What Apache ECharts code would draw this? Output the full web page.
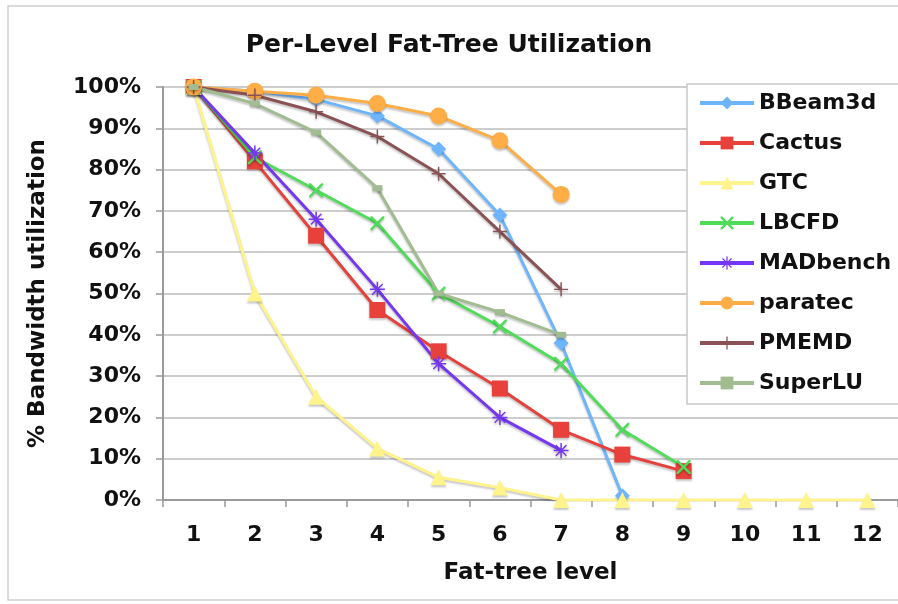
<!DOCTYPE html>
<html>
<head>
<meta charset="utf-8">
<script src="https://cdn.jsdelivr.net/npm/echarts@6/dist/echarts.min.js"></script>
<style>
  html, body { margin: 0; padding: 0; background: #fff; }
  #chart { width: 898px; height: 604px; }
</style>
</head>
<body>
<div id="chart"></div>
<script>
// fat-tree levels
const levels = ['1', '2', '3', '4', '5', '6', '7', '8', '9', '10', '11', '12']
const yTicks = [0, 10, 20, 30, 40, 50, 60, 70, 80, 90, 100]

// utilization per level, in %
const bbeam3d = [100, 99, 97, 93, 85, 69, 38, 1]
const cactus = [100, 82, 64, 46, 36, 27, 17, 11, 7]
const gtc = [100, 50, 25, 12.5, 5.5, 3, 0, 0, 0, 0, 0, 0]
const lbcfd = [100, 83, 75, 67, 50, 42, 33, 17, 8]
const madbench = [100, 84, 68, 51, 33, 20, 12]
const paratec = [100, 99, 98, 96, 93, 87, 74]
const pmemd = [100, 98, 94, 88, 79, 65, 51]
const superlu = [100, 96, 89, 75.5, 50, 45.5, 40]

const FONT = 'DejaVu Sans'

const xPath = 'path://M0,0L2.5,0L10,7.5L17.5,0L20,0L20,2.5L12.5,10L20,17.5L20,20L17.5,20L10,12.5L2.5,20L0,20L0,17.5L7.5,10L0,2.5Z'
const plusPath = 'path://M9,0L11,0L11,9L20,9L20,11L11,11L11,20L9,20L9,11L0,11L0,9L9,9Z'
const starPath = 'path://M9,0L11,0L11,7.6L16.4,2.2L17.8,3.6L12.4,9L20,9L20,11L12.4,11L17.8,16.4L16.4,17.8L11,12.4L11,20L9,20L9,12.4L3.6,17.8L2.2,16.4L7.6,11L0,11L0,9L7.6,9L2.2,3.6L3.6,2.2L9,7.6Z'

function line(name, data, color, symbol, size) {
  return {
    name: name,
    type: 'line',
    data: data,
    symbol: symbol,
    symbolSize: size,
    showAllSymbol: true,
    lineStyle: { color: color, width: 3, shadowColor: 'rgba(0,0,0,0.22)', shadowBlur: 2, shadowOffsetY: 2 },
    itemStyle: { color: color, shadowColor: 'rgba(0,0,0,0.22)', shadowBlur: 2, shadowOffsetY: 2 },
    emphasis: { disabled: true },
    animation: false
  }
}

const chart = echarts.init(document.getElementById('chart'))
chart.setOption({
  backgroundColor: '#fff',
  title: {
    text: 'Per-Level Fat-Tree Utilization',
    left: 'center',
    top: 28,
    textStyle: { fontFamily: FONT, fontWeight: 'bold', fontSize: 25, color: '#111' }
  },
  graphic: [{
    type: 'rect',
    shape: { x: 8, y: 6, width: 900, height: 594 },
    style: { fill: 'none', stroke: '#d0d0d0', lineWidth: 1.5 },
    silent: true,
    z: -1
  }],
  legend: {
    orient: 'vertical',
    left: 687,
    top: 84,
    padding: [8, 60, 10, 11],
    itemWidth: 54,
    itemHeight: 16,
    itemGap: 18,
    backgroundColor: '#fff',
    borderColor: '#c8c8c8',
    borderWidth: 1.5,
    lineStyle: { width: 4 },
    textStyle: { fontFamily: FONT, fontWeight: 'bold', fontSize: 22, lineHeight: 22, color: '#111' },
    data: ['BBeam3d', 'Cactus', 'GTC', 'LBCFD', 'MADbench', 'paratec', 'PMEMD', 'SuperLU']
  },
  grid: { left: 163, right: 0, top: 87, bottom: 104 },
  xAxis: {
    type: 'category',
    data: levels,
    boundaryGap: true,
    name: 'Fat-tree level',
    nameLocation: 'middle',
    nameGap: 62,
    nameTextStyle: { fontFamily: FONT, fontWeight: 'bold', fontSize: 23, color: '#111' },
    axisLine: { lineStyle: { color: '#9a9a9a', width: 2 } },
    axisTick: { show: true, length: 7, lineStyle: { color: '#9a9a9a', width: 1.5 } },
    axisLabel: { margin: 24, fontFamily: FONT, fontWeight: 'bold', fontSize: 22, color: '#111' },
    splitLine: { show: false }
  },
  yAxis: {
    type: 'value',
    min: yTicks[0],
    max: yTicks[yTicks.length - 1],
    interval: 10,
    name: '% Bandwidth utilization',
    nameLocation: 'middle',
    nameGap: 113,
    nameTextStyle: { fontFamily: FONT, fontWeight: 'bold', fontSize: 23, color: '#111' },
    axisLine: { show: true, lineStyle: { color: '#9a9a9a', width: 2 } },
    axisTick: { show: true, length: 7, lineStyle: { color: '#9a9a9a', width: 1.5 } },
    axisLabel: { margin: 22, formatter: '{value}%', fontFamily: FONT, fontWeight: 'bold', fontSize: 22, color: '#111' },
    splitLine: { lineStyle: { color: '#cdcdcd', width: 2 } }
  },
  series: [
    line('BBeam3d', bbeam3d, '#6db6ff', 'diamond', 15),
    line('Cactus', cactus, '#e8403a', 'rect', 16),
    line('GTC', gtc, '#fff38c', 'triangle', 16),
    line('LBCFD', lbcfd, '#4fdc58', xPath, 14),
    line('MADbench', madbench, '#7636f5', starPath, 15),
    line('paratec', paratec, '#ffad47', 'circle', 17),
    line('PMEMD', pmemd, '#8a5254', plusPath, 14),
    line('SuperLU', superlu, '#a2bc92', 'rect', [10, 6])
  ]
})
</script>
</body>
</html>
